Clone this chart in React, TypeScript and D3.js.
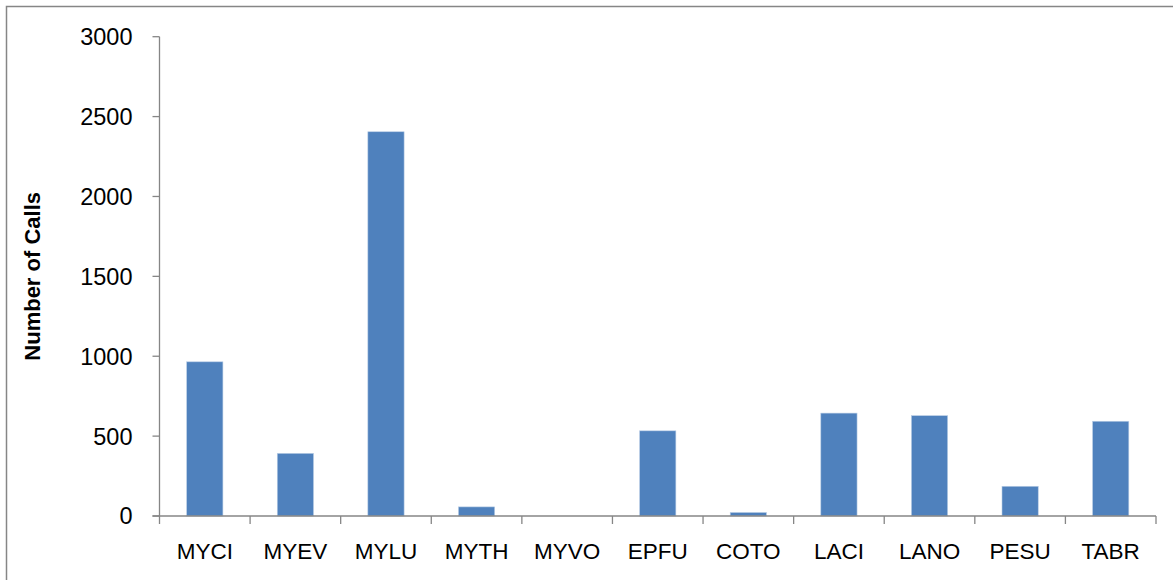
import React from "react";
import * as d3 from "d3";

const categories = ["MYCI", "MYEV", "MYLU", "MYTH", "MYVO", "EPFU", "COTO", "LACI", "LANO", "PESU", "TABR"];
const calls = [965, 392, 2405, 57, 0, 533, 22, 644, 628, 186, 593];
const yTicks = [0, 500, 1000, 1500, 2000, 2500, 3000];
const yTitle = "Number of Calls";

const W = 1173;
const H = 580;
const FONT = "'Liberation Sans', Arial, sans-serif";

export default function App() {
  const left = 159.5;
  const right = 1156;
  const top = 36.7;
  const bottom = 516;

  const xEdges = d3.scaleBand<string>().domain(categories).range([left, right]).padding(0);
  const y = d3.scaleLinear().domain([0, 3000]).range([bottom, top]);
  const axisColor = "#868686";

  return (
    <svg width={W} height={H} style={{ position: "absolute", left: 0, top: 0, background: "#fff" }} fontFamily={FONT}>
      <rect x={0} y={0} width={W} height={H} fill="#fff" />
      <rect x={6.5} y={6.5} width={W + 20} height={H + 20} fill="none" stroke="#868686" strokeWidth={1.5} />
      {/* bars */}
      {categories.map((c, i) => {
        const v = calls[i];
        if (v <= 0) return null;
        const bw = xEdges.bandwidth() / 2.5;
        const cx = (xEdges(c) as number) + xEdges.bandwidth() / 2;
        return (
          <rect
            key={c}
            x={cx - bw / 2}
            y={y(v)}
            width={bw}
            height={bottom - y(v)}
            fill="#4F81BD"
            stroke="#B9CDE5"
            strokeWidth={0.6}
          />
        );
      })}
      {/* y axis */}
      <line x1={left} x2={left} y1={top} y2={bottom} stroke={axisColor} strokeWidth={1.3} />
      {yTicks.map((t) => (
        <g key={t}>
          <line x1={left - 7} x2={left} y1={y(t)} y2={y(t)} stroke={axisColor} strokeWidth={1.3} />
          <text x={left - 27} y={y(t)} dy="0.36em" textAnchor="end" fontSize={23.5} fill="#000">
            {t}
          </text>
        </g>
      ))}
      {/* x axis */}
      <line x1={left - 7} x2={right} y1={bottom} y2={bottom} stroke={axisColor} strokeWidth={1.3} />
      {categories.map((c) => (
        <line key={"t" + c} x1={xEdges(c) as number} x2={xEdges(c) as number} y1={bottom} y2={bottom + 8} stroke={axisColor} strokeWidth={1.3} />
      ))}
      <line x1={right} x2={right} y1={bottom} y2={bottom + 8} stroke={axisColor} strokeWidth={1.3} />
      {categories.map((c) => (
        <text
          key={"l" + c}
          x={(xEdges(c) as number) + xEdges.bandwidth() / 2}
          y={558.5}
          textAnchor="middle"
          fontSize={22.5}
          fill="#000"
        >
          {c}
        </text>
      ))}
      <text
        transform={`translate(40, ${(top + bottom) / 2}) rotate(-90)`}
        textAnchor="middle"
        fontSize={22}
        fontWeight="bold"
        fill="#000"
      >
        {yTitle}
      </text>
    </svg>
  );
}
